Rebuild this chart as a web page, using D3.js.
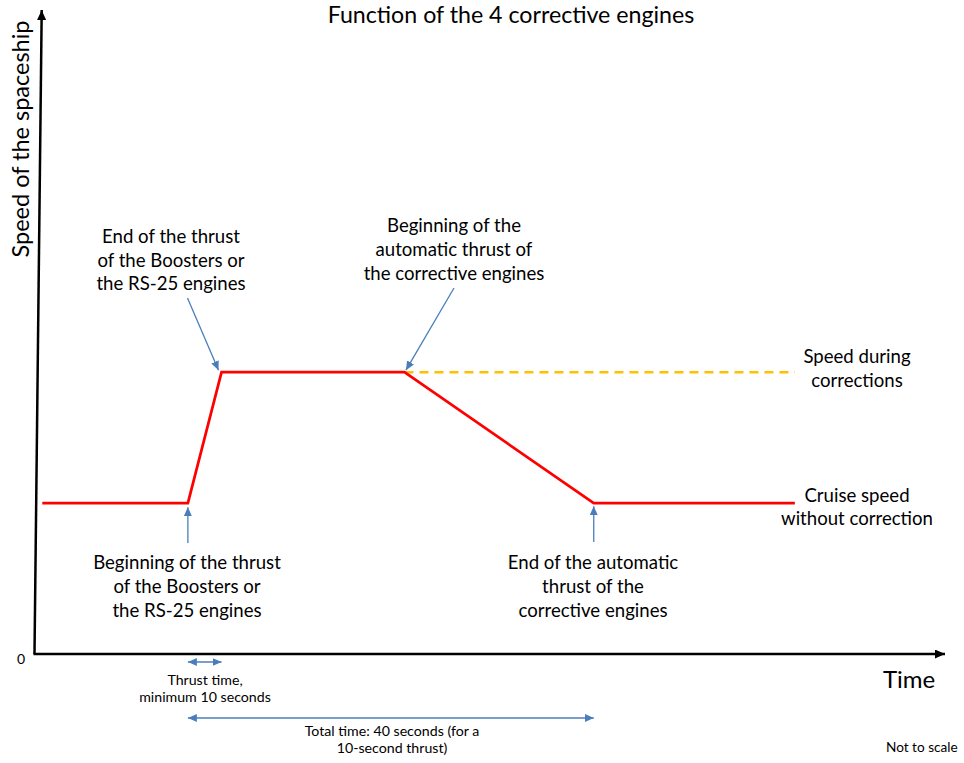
<!DOCTYPE html>
<html>
<head>
<meta charset="utf-8">
<script src="https://cdn.jsdelivr.net/npm/d3@7"></script>
<style>
body { margin: 0; background: #fff; }
svg { display: block; }
text { font-family: Lato, "Open Sans", sans-serif; fill: #000; }
</style>
</head>
<body>
<svg width="964" height="763"></svg>
<script>
// time is in arbitrary units, the chart is "not to scale"
var times = [0.8, 16.8, 20.5, 40.6, 61.4, 83.5];
var speeds = [23.5, 23.5, 43.9, 43.9, 23.5, 23.5];
var correctionTimes = [40.6, 83.5];
var correctionSpeeds = [43.9, 43.9];

// key moments: begin thrust, end thrust, begin auto thrust, end auto thrust
var eventTimes = [16.8, 20.5, 40.6, 61.4];
var cruiseSpeed = 23.5;
var correctionSpeed = 43.9;

var title = "Function of the 4 corrective engines";
var yLabel = "Speed of the spaceship";
var xLabel = "Time";
var labelEndThrust = ["End of the thrust", "of the Boosters or", "the RS-25 engines"];
var labelBeginAuto = ["Beginning of the", "automatic thrust of", "the corrective engines"];
var labelBeginThrust = ["Beginning of the thrust", "of the Boosters or", "the RS-25 engines"];
var labelEndAuto = ["End of the automatic", "thrust of the", "corrective engines"];
var labelCorrection = ["Speed during", "corrections"];
var labelCruise = ["Cruise speed", "without correction"];
var labelThrustTime = ["Thrust time,", "minimum 10 seconds"];
var labelTotalTime = ["Total time: 40 seconds (for a", "10-second thrust)"];

var svg = d3.select("svg");
var blue = "#4a7ebb";

var x = d3.scaleLinear().domain([0, 100]).range([35, 945]);
var y = d3.scaleLinear().domain([0, 100]).range([654, 12]);

// MARKERS
var defs = svg.append("defs");
function marker(id, color, len, wid, reverse) {
    defs.append("marker")
	.attr("id", id)
	.attr("markerUnits", "userSpaceOnUse")
	.attr("markerWidth", len)
	.attr("markerHeight", wid)
	.attr("viewBox", "0 0 " + len + " " + wid)
	.attr("refX", reverse ? 0 : len)
	.attr("refY", wid / 2)
	.attr("orient", "auto")
	.append("path")
	.attr("d", reverse
	      ? "M" + len + ",0L0," + wid / 2 + "L" + len + "," + wid + "Z"
	      : "M0,0L" + len + "," + wid / 2 + "L0," + wid + "Z")
	.attr("fill", color);
}
marker("axisHead", "#000", 10, 9, false);
marker("blueHead", blue, 9, 8, false);
marker("blueTail", blue, 9, 8, true);

// AXES
svg.append("line")
    .attr("x1", x(0) - 0.5).attr("y1", y(0))
    .attr("x2", x(0) + 6.7).attr("y2", y(100) - 2)
    .attr("stroke", "#000").attr("stroke-width", 2.5)
    .attr("marker-end", "url(#axisHead)");
svg.append("line")
    .attr("x1", x(0) - 1.5).attr("y1", y(0))
    .attr("x2", x(100)).attr("y2", y(0))
    .attr("stroke", "#000").attr("stroke-width", 2.5)
    .attr("marker-end", "url(#axisHead)");

// SERIES
var line = d3.line()
    .x(function(d) { return x(d[0]); })
    .y(function(d) { return y(d[1]); });

svg.append("path")
    .datum(d3.zip(correctionTimes, correctionSpeeds))
    .attr("d", line)
    .attr("fill", "none")
    .attr("stroke", "#ffc000")
    .attr("stroke-width", 2.5)
    .attr("stroke-dasharray", "9,6");

svg.append("path")
    .datum(d3.zip(times, speeds))
    .attr("d", line)
    .attr("fill", "none")
    .attr("stroke", "#ff0000")
    .attr("stroke-width", 2.75)
    .attr("stroke-linejoin", "miter");

// TEXT
function lines(arr, cx, y0, step, size, anchor) {
    var t = svg.append("text")
	.attr("text-anchor", anchor || "middle")
	.style("font-size", size + "px");
    arr.forEach(function(s, i) {
	t.append("tspan").attr("x", cx).attr("y", y0 + i * step).text(s);
    });
    return t;
}

lines([title], 511, 23, 0, 23.2);
svg.append("text")
    .attr("transform", "translate(29," + 139 + ") rotate(-90)")
    .attr("text-anchor", "middle")
    .style("font-size", "23.5px")
    .text(yLabel);
lines([xLabel], 883, 688, 0, 24, "start");
lines(["0"], 21, 664, 0, 14);
lines(["Not to scale"], 886, 752, 0, 13.6, "start");

lines(labelEndThrust, 171, 243, 23.7, 18.6);
lines(labelBeginAuto, 454, 232, 24, 18.6);
lines(labelBeginThrust, 187, 569, 24, 18.6);
lines(labelEndAuto, 593, 569, 24, 18.6);
lines(labelCorrection, 857, 363, 23.5, 18.6);
lines(labelCruise, 857, 501.5, 23.5, 18.6);
lines(labelThrustTime, 205, 685, 17, 14.2);
lines(labelTotalTime, 392, 736, 17, 14.2);

// ARROWS
function arrow(x1, y1, x2, y2, both) {
    svg.append("line")
	.attr("x1", x1).attr("y1", y1)
	.attr("x2", x2).attr("y2", y2)
	.attr("stroke", blue).attr("stroke-width", 1.3)
	.attr("marker-end", "url(#blueHead)")
	.attr("marker-start", both ? "url(#blueTail)" : null);
}

arrow(187.5, 298, x(eventTimes[1]) - 3, y(correctionSpeed) - 2);
arrow(454, 288, x(eventTimes[2]) + 1.5, y(correctionSpeed) - 2);
arrow(x(eventTimes[0]), 543, x(eventTimes[0]), y(cruiseSpeed) + 4);
arrow(x(eventTimes[3]), 542, x(eventTimes[3]), y(cruiseSpeed) + 3);
arrow(x(eventTimes[0]), 662, x(eventTimes[1]), 662, true);
arrow(x(eventTimes[0]), 718, x(eventTimes[3]), 718, true);
</script>
</body>
</html>
